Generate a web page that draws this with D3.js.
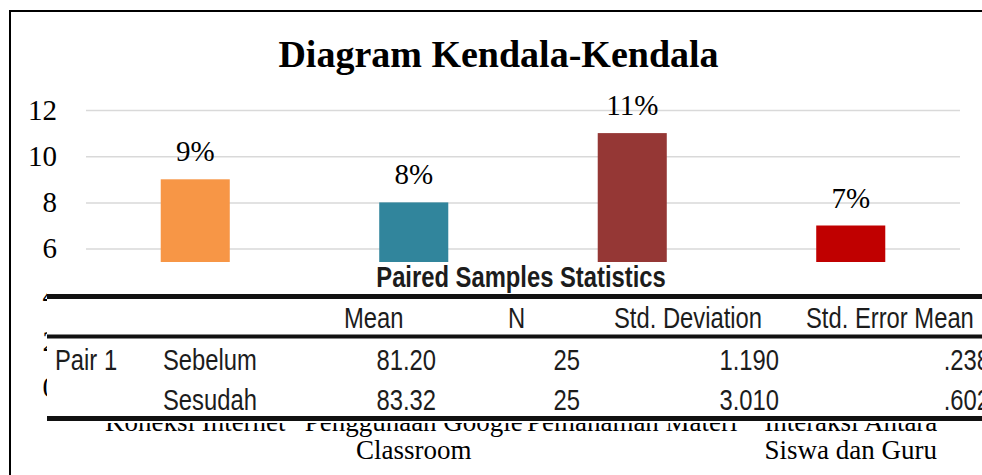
<!DOCTYPE html>
<html>
<head>
<meta charset="utf-8">
<script src="https://cdn.jsdelivr.net/npm/d3@7"></script>
<style>
  body { margin: 0; background: #fff; }
  svg { display: block; }
</style>
</head>
<body>
<div id="chart"></div>
<script>
// bar chart "Diagram Kendala-Kendala" with the SPSS paired samples table pasted over its lower half

const categories = ["Koneksi Internet", "Penggunaan Google Classroom", "Pemahaman Materi", "Interaksi Antara Siswa dan Guru"];
const values = [9, 8, 11, 7];
const valueLabels = ["9%", "8%", "11%", "7%"];
const yTicks = [0, 2, 4, 6, 8, 10, 12];
const barColors = ["#f79646", "#31859c", "#953735", "#c00000"];

const tableTitle = "Paired Samples Statistics";
const tableHeaders = ["Mean", "N", "Std. Deviation", "Std. Error Mean"];
const pairNames = ["Pair 1", ""];
const rowNames = ["Sebelum", "Sesudah"];
const means = ["81.20", "83.32"];
const counts = ["25", "25"];
const stdDeviations = ["1.190", "3.010"];
const stdErrors = [".238", ".602"];

const W = 982, H = 475;
const margin = { top: 110, left: 86 },
    width = 874,
    height = 277.2;

const serif = "'Liberation Serif', 'Times New Roman', serif";
const sans = "'Liberation Sans', Arial, sans-serif";

const svg = d3.select("#chart")
    .append("svg")
    .attr("width", W)
    .attr("height", H);

// outer frame of the chart (runs off the right and bottom edge)
svg.append("rect")
    .attr("x", 10).attr("y", 11)
    .attr("width", 1000).attr("height", 500)
    .attr("fill", "none")
    .attr("stroke", "#000")
    .attr("stroke-width", 2);

svg.append("text")
    .attr("x", 498.5).attr("y", 67)
    .attr("text-anchor", "middle")
    .attr("font-family", serif)
    .attr("font-weight", "bold")
    .attr("font-size", 38)
    .text("Diagram Kendala-Kendala");

const g = svg.append("g")
    .attr("transform", `translate(${margin.left},${margin.top})`);

const x = d3.scaleBand().domain(categories).range([0, width]).padding(0);
const y = d3.scaleLinear().domain([0, 12]).range([height, 0]);
const barW = x.bandwidth() * 0.316;

// gridlines
g.append("g")
    .call(d3.axisLeft(y).tickValues(yTicks).tickSize(-width).tickFormat(""))
    .call(a => a.select(".domain").remove())
    .selectAll("line")
    .attr("stroke", "#d9d9d9")
    .attr("stroke-width", 1.5);

// y labels
g.append("g")
    .call(d3.axisLeft(y).tickValues(yTicks).tickSize(0).tickPadding(29))
    .call(a => a.select(".domain").remove())
    .selectAll("text")
    .attr("font-family", serif)
    .attr("font-size", 29)
    .attr("fill", "#000");

g.selectAll(".bar")
    .data(values)
    .join("rect")
    .attr("class", "bar")
    .attr("x", (d, i) => x(categories[i]) + (x.bandwidth() - barW) / 2)
    .attr("y", d => y(d))
    .attr("width", barW)
    .attr("height", d => y(0) - y(d))
    .attr("fill", (d, i) => barColors[i]);

g.selectAll(".val")
    .data(values)
    .join("text")
    .attr("class", "val")
    .attr("x", (d, i) => x(categories[i]) + x.bandwidth() / 2)
    .attr("y", d => y(d) - 18)
    .attr("text-anchor", "middle")
    .attr("font-family", serif)
    .attr("font-size", 29)
    .text((d, i) => valueLabels[i]);

// category labels, wrapped like excel does
const xAxis = g.append("g")
    .attr("transform", `translate(0,${height})`)
    .call(d3.axisBottom(x).tickSize(0));
xAxis.select(".domain").remove();
xAxis.selectAll("text")
    .attr("font-family", serif)
    .attr("font-size", 27)
    .attr("fill", "#000")
    .attr("dy", null)
    .call(wrap, 228);

function wrap(text, maxWidth) {
    text.each(function () {
        const t = d3.select(this);
        const words = t.text().split(/\s+/);
        t.text(null);
        let line = [], lineNo = 0;
        let tspan = t.append("tspan").attr("x", 0).attr("y", 43.5);
        for (const w of words) {
            line.push(w);
            tspan.text(line.join(" "));
            if (tspan.node().getComputedTextLength() > maxWidth && line.length > 1) {
                line.pop();
                tspan.text(line.join(" "));
                line = [w];
                lineNo++;
                tspan = t.append("tspan").attr("x", 0).attr("y", 43.5 + lineNo * 28).text(w);
            }
        }
    });
}

// the pasted table
const tbl = svg.append("g");
tbl.append("rect")
    .attr("x", 47).attr("y", 262)
    .attr("width", W - 47).attr("height", 161)
    .attr("fill", "#fff");

[[296.5, 5], [336.5, 4], [418.5, 5]].forEach(([ly, sw]) => {
    tbl.append("line")
        .attr("x1", 47).attr("x2", W)
        .attr("y1", ly).attr("y2", ly)
        .attr("stroke", "#111")
        .attr("stroke-width", sw);
});

function cell(txt, cx, cy, anchor, bold) {
    const t = tbl.append("text")
        .attr("x", cx).attr("y", cy)
        .attr("text-anchor", anchor)
        .attr("font-family", sans)
        .attr("font-size", 29)
        .attr("font-weight", bold ? "bold" : "normal")
        .attr("fill", "#1c1c1c")
        .text(txt);
    const w = t.node().getComputedTextLength();
    if (w > 0) t.attr("textLength", w * 0.82).attr("lengthAdjust", "spacingAndGlyphs");
}

cell(tableTitle, 521, 287, "middle", true);

const headerX = [344, 508, 614, 806];
tableHeaders.forEach((h, i) => cell(h, headerX[i], 328, "start"));

const rows = rowNames.map((r, i) => [pairNames[i], r, means[i], counts[i], stdDeviations[i], stdErrors[i]]);
const cols = [[55, "start"], [163, "start"], [436, "end"], [580, "end"], [779, "end"], [990, "end"]];
const rowY = [370, 410];
rows.forEach((row, ri) => {
    row.forEach((v, ci) => cell(v, cols[ci][0], rowY[ri], cols[ci][1]));
});
</script>
</body>
</html>
